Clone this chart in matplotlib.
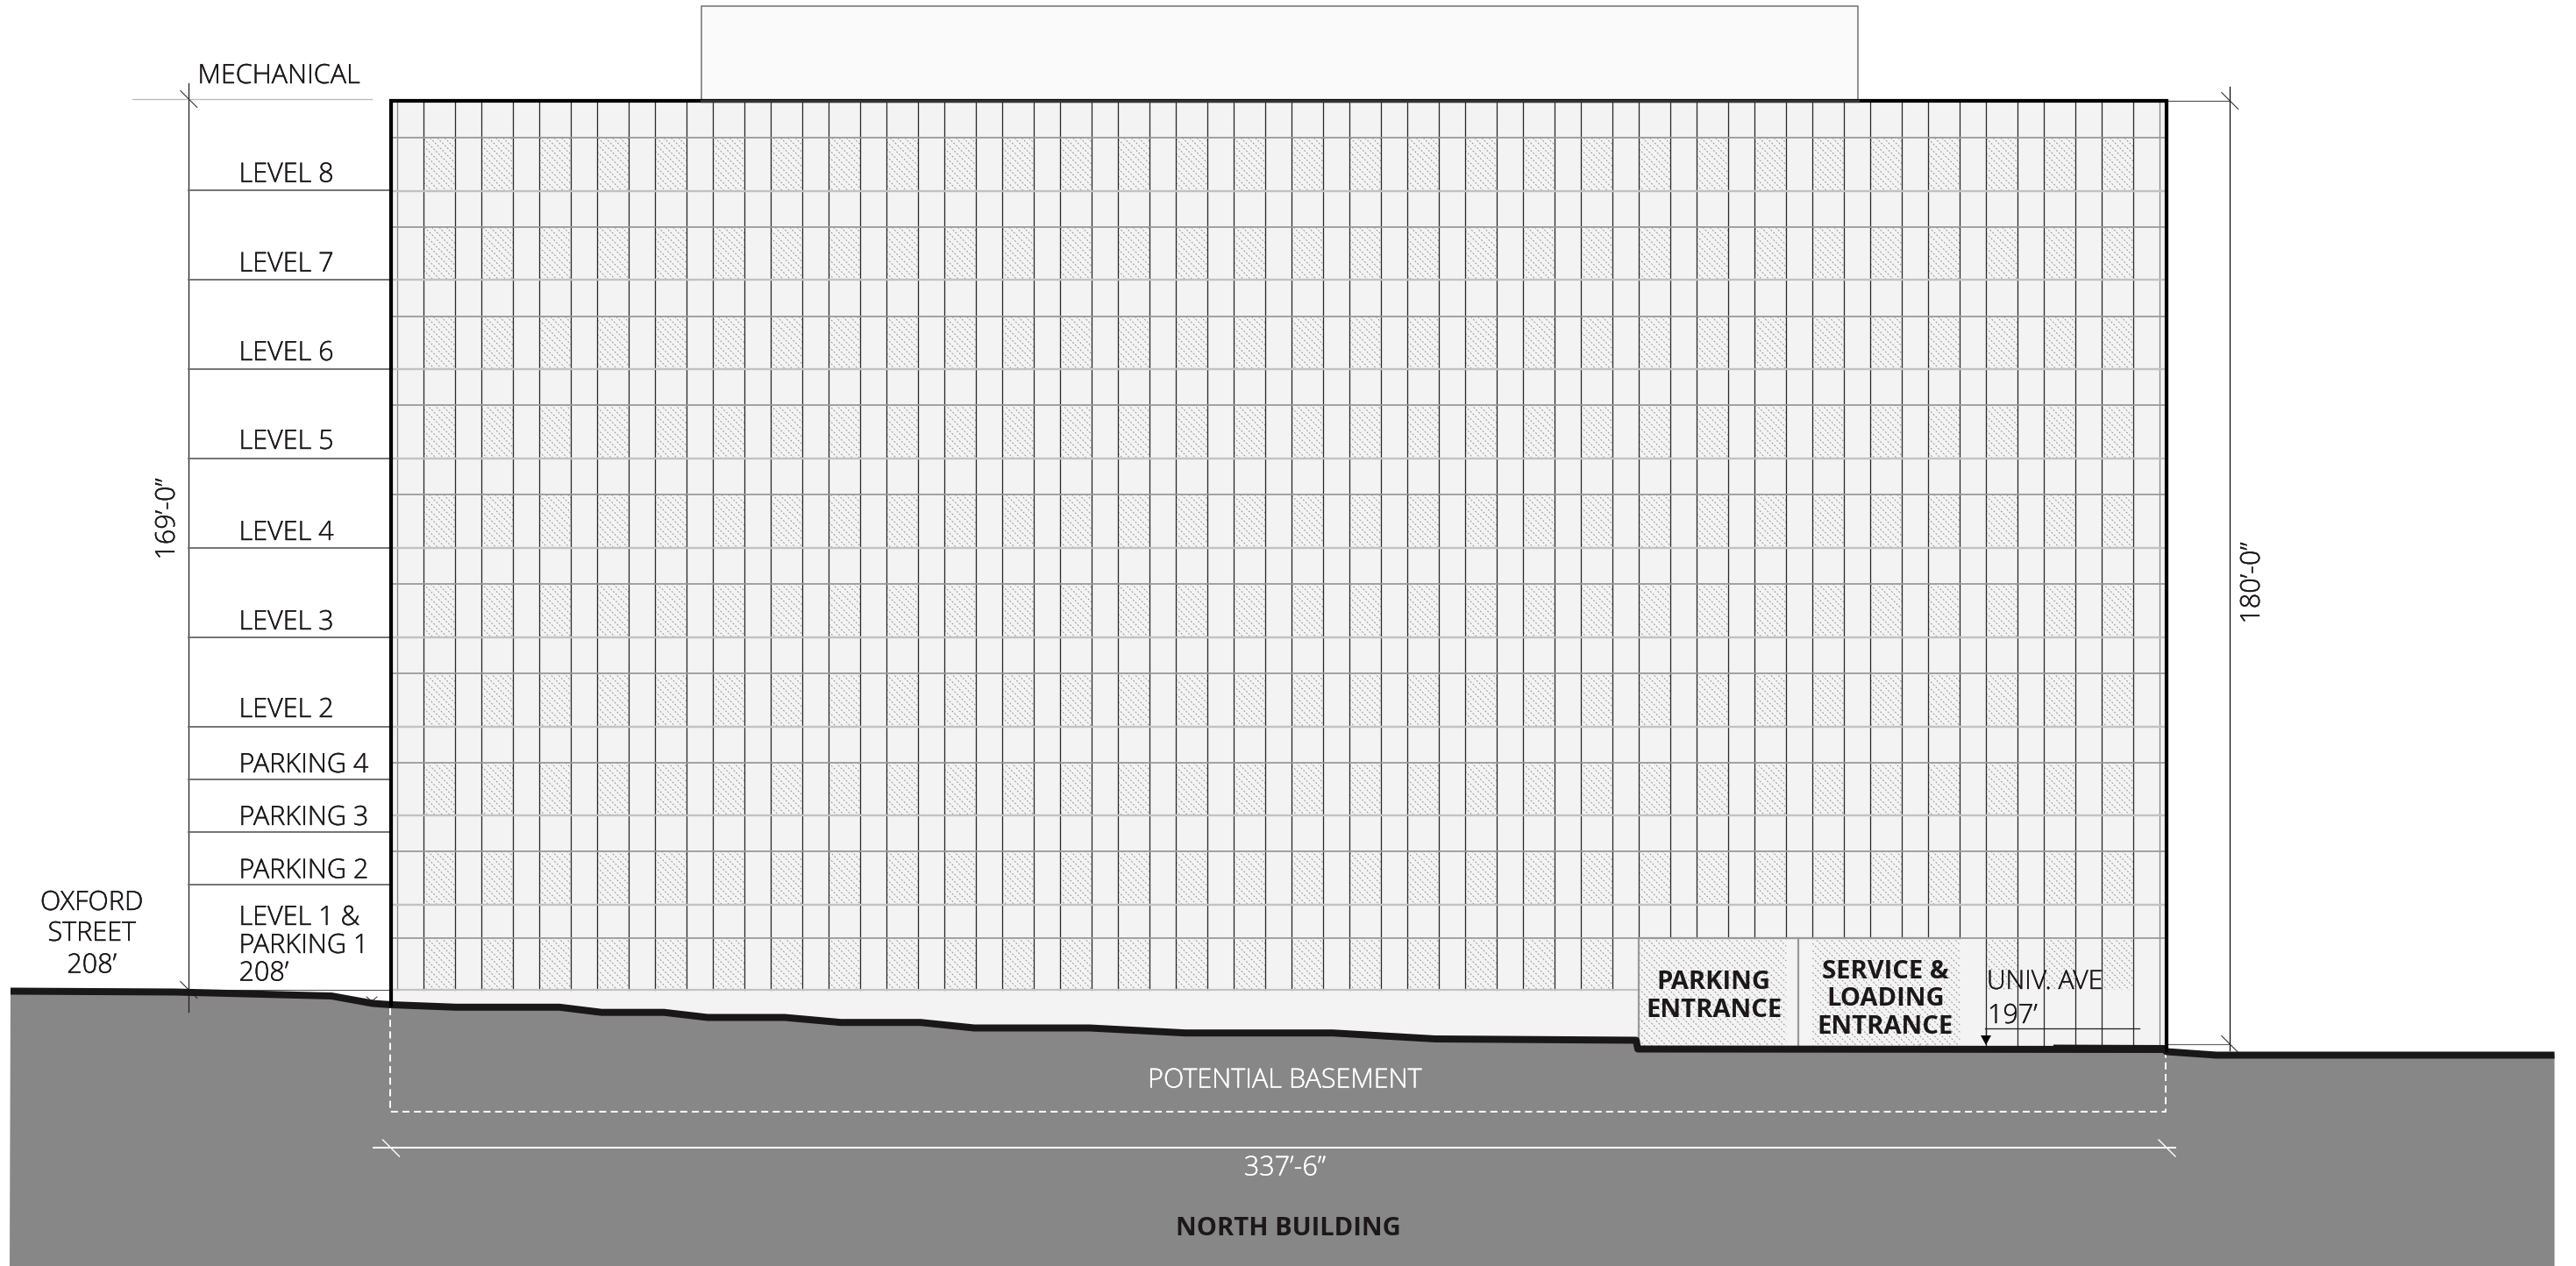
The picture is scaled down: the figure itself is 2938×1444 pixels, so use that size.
import matplotlib
matplotlib.use('Agg')
import matplotlib.pyplot as plt
import matplotlib.patheffects as pe
from matplotlib.collections import LineCollection
from matplotlib.patches import Rectangle, Polygon

# Storey labels and the y of the line under each one (image pixels)
level_names = ['LEVEL 8', 'LEVEL 7', 'LEVEL 6', 'LEVEL 5', 'LEVEL 4', 'LEVEL 3', 'LEVEL 2',
               'PARKING 4', 'PARKING 3', 'PARKING 2']
level_lines = [217, 319, 421, 523, 625, 727, 829, 889, 949, 1009]
level_baselines = [207.5, 309.5, 411, 512, 616, 718, 818, 881, 941, 1001.5]

# Facade rows that carry the hatched panels
hatch_tops = [157.3, 259.3, 361.3, 461.7, 564.3, 666, 767.7, 870, 971, 1069.7]
hatch_bottoms = [217.7, 319, 421, 523, 625, 726.7, 828.7, 930.3, 1032, 1129]

# Street profile, west to east
ground_x = [12, 200, 378, 425, 446, 520, 638, 686, 757, 807, 895, 959, 1050, 1111, 1243, 1352,
            1520, 1637, 1866, 1868, 2468, 2471, 2528, 2913.5]
ground_y = [1130.5, 1131.5, 1136, 1144.5, 1146, 1148.8, 1148.8, 1154.7, 1154.7, 1160.5, 1160.5, 1166.2,
            1166.2, 1172.5, 1172.5, 1178.2, 1178.2, 1185, 1186.5, 1196.5, 1197, 1199.5, 1203.5, 1203.5]

# Facade bays
n_bays = 30
bay_start = 483.3
bay_step = 66
bay_width = 36

INK = '#1c1819'
GROUND = '#878787'
WALL = '#f4f3f4'
FONT = 'Open Sans'
HATCH_STEP = 8.33

plt.rcParams['font.family'] = [FONT, 'DejaVu Sans']

hatch_segments = []


def px(width):
    # line widths below are given in image pixels
    return width * 0.72


def label(x, y, s, color=INK, size=22, weight=300, ha='left', rotation=0):
    t = ax.text(x, y, s, color=color, fontsize=size, fontweight=weight, ha=ha, va='baseline',
                rotation=rotation, rotation_mode='anchor', zorder=10)
    if weight == 300:
        t.set_path_effects([pe.withStroke(linewidth=0.3, foreground=color)])


def tick(x, y, color='#222222', width=1.0, zorder=6):
    ax.plot([x - 9.5, x + 9.5], [y - 9.5, y + 9.5], color=color, lw=px(width), zorder=zorder)


def hatch_box(x0, x1, y0, y1):
    # falling diagonals at a fixed spacing, trimmed to the panel
    c = int((x0 - y1) / HATCH_STEP) * HATCH_STEP
    while c < x1 - y0:
        xa = max(x0, y0 + c)
        xb = min(x1, y1 + c)
        if xb > xa:
            hatch_segments.append([(xa, xa - c), (xb, xb - c)])
        c += HATCH_STEP


fig = plt.figure(figsize=(29.38, 14.44), dpi=100)
ax = fig.add_axes([0, 0, 1, 1])
ax.set_xlim(0, 2938)
ax.set_ylim(1444, 0)
ax.axis('off')

# Penthouse and building body
ax.add_patch(Rectangle((800, 7), 1319, 108, facecolor='#fafafa', edgecolor='#777777', lw=px(1.6), zorder=1))
ax.add_patch(Rectangle((446, 115), 2025, 1085, facecolor=WALL, edgecolor='none', zorder=1))

# Hatched panels
for top, bottom in zip(hatch_tops, hatch_bottoms):
    for i in range(n_bays):
        x0 = bay_start + i * bay_step
        # the ground floor row is interrupted by the two entrances
        if top == hatch_tops[-1] and 21 <= i <= 26:
            continue
        hatch_box(x0, x0 + bay_width, top, bottom)

# Entrances
hatch_box(1869.3, 2037.3, 1069.7, 1193)
hatch_box(2067.3, 2235.3, 1069.7, 1193)
ax.add_collection(LineCollection(hatch_segments, colors='#868686', linewidths=0.62,
                                 linestyles=[(0, (2.2, 2.4))], zorder=2))
ax.plot([1869.3, 2235.3], [1069.7, 1069.7], color='#999999', lw=px(2.2), zorder=4)
ax.plot([1869.3, 1869.3], [1069.7, 1186], color='#999999', lw=px(2.2), zorder=4)
ax.plot([2051, 2051], [1069.7, 1195], color='#999999', lw=px(2.2), zorder=4)

# Vertical mullions
mullions = [453.3, 2463.3]
for i in range(n_bays):
    mullions += [bay_start + i * bay_step, bay_start + i * bay_step + bay_width]
for x in mullions:
    if x < 1869:
        end = 1129
    elif x <= 2236:
        end = 1069.7
    else:
        end = 1193
    shade = '#888888' if x == 453.3 or x == 2463.3 else '#2a2a2a'
    ax.plot([x, x], [117, end], color=shade, lw=px(1.3), zorder=3)

# Horizontal mullions
for y in hatch_tops:
    ax.plot([447, 2470], [y, y], color='#9a9a9a', lw=px(1.8), zorder=3)
for y in hatch_bottoms[:-1]:
    ax.plot([447, 2470], [y, y], color='#c2c2c2', lw=px(2.4), zorder=3)
ax.plot([446, 1869], [1129, 1129], color='#c2c2c2', lw=px(2.2), zorder=3)

# Ground
ax.add_patch(Polygon(list(zip(ground_x, ground_y)) + [(2913.5, 1444), (11, 1444)], closed=True,
                     facecolor=GROUND, edgecolor='none', zorder=5))
ax.plot([2193 - 5, 2193 + 5], [1191, 1201], color='#e79ac0', lw=px(1), zorder=4)
ax.plot([2193 - 5, 2193 + 5], [1201, 1191], color='#e79ac0', lw=px(1), zorder=4)
ax.plot(ground_x, ground_y, color='#1a1718', lw=px(8), solid_capstyle='butt',
        solid_joinstyle='round', zorder=7)
ax.plot([2343, 2471], [1192.5, 1193], color='#1a1718', lw=px(2), zorder=7)

# Outer walls
ax.plot([446, 446, 2471, 2471], [1146, 115, 115, 1198], color='black', lw=px(4.2),
        solid_joinstyle='miter', zorder=8)
ax.plot([800, 2119], [115, 115], color='#333333', lw=px(3.4), zorder=8)

# Left dimension and level lines
ax.plot([215.3, 215.3], [95, 1154], color='#222222', lw=px(1.3), zorder=6)
ax.plot([151.5, 424.5], [113, 113], color='#bbbbbb', lw=px(1.3), zorder=6)
tick(215.3, 113)
tick(215.3, 1129)
for y in level_lines:
    ax.plot([215.3, 444], [y, y], color='#6f6f6f', lw=px(1.9), zorder=6)
ax.plot([198, 444], [1129, 1129], color='#555555', lw=px(1.1), zorder=6)
ax.plot([418, 430], [1137, 1147], color='#333333', lw=px(1), zorder=6)
ax.plot([418, 430], [1147, 1137], color='#333333', lw=px(1), zorder=6)

# Right dimension
ax.plot([2543.3, 2543.3], [99, 1198], color='#111111', lw=px(1.3), zorder=6)
ax.plot([2473, 2543.3], [115, 115], color='#555555', lw=px(1.2), zorder=6)
ax.plot([2473, 2543.3], [1191, 1191], color='#666666', lw=px(1.2), zorder=6)
tick(2543.3, 115)
tick(2543.3, 1191)

# Length dimension
ax.plot([426.5, 2481], [1308.7, 1308.7], color='white', lw=px(2), zorder=6)
tick(446, 1309.5, color='white', width=1.4)
tick(2471.5, 1309.5, color='white', width=1.4)

# Potential basement outline
ax.plot([445.5, 445.5, 2470, 2470], [1150, 1268, 1268, 1200], color='white', lw=px(2),
        dashes=(4, 2.6), zorder=6)

# Univ. Ave marker
ax.plot([2264, 2440], [1173, 1173], color='#222222', lw=px(1.3), zorder=6)
ax.plot([2265, 2265], [1173, 1182], color='#222222', lw=px(1.3), zorder=6)
ax.add_patch(Polygon([(2259, 1181), (2271, 1181), (2265, 1192)], closed=True, facecolor='black',
                     edgecolor='none', zorder=6))

# Labels
label(225.5, 95, 'MECHANICAL')
for name, y in zip(level_names, level_baselines):
    label(272.5, y, name)
label(272.5, 1055, 'LEVEL 1 &')
label(272.5, 1087, 'PARKING 1')
label(272.5, 1118.5, '208’')
label(104.6, 1038, 'OXFORD', ha='center')
label(104.6, 1073, 'STREET', ha='center')
label(104.6, 1109.5, '208’', ha='center')
label(2266, 1128, 'UNIV. AVE', size=21.6)
label(2267, 1167, '197’')
label(1954.6, 1128.5, 'PARKING', size=21, weight='bold', ha='center')
label(1954.6, 1160.5, 'ENTRANCE', size=21, weight='bold', ha='center')
label(2150.5, 1115.5, 'SERVICE &', size=21, weight='bold', ha='center')
label(2150.5, 1147, 'LOADING', size=21, weight='bold', ha='center')
label(2150.5, 1179, 'ENTRANCE', size=21, weight='bold', ha='center')
label(1465, 1240.5, 'POTENTIAL BASEMENT', color='white', ha='center')
label(1465.5, 1340.5, '337’-6”', color='white', ha='center')
label(1469.5, 1409, 'NORTH BUILDING', size=21, weight='bold', ha='center')
label(199, 592, '169’-0”', ha='center', rotation=90)
label(2577, 665, '180’-0”', ha='center', rotation=90)

fig.savefig('out.png', dpi=100, facecolor='white')
